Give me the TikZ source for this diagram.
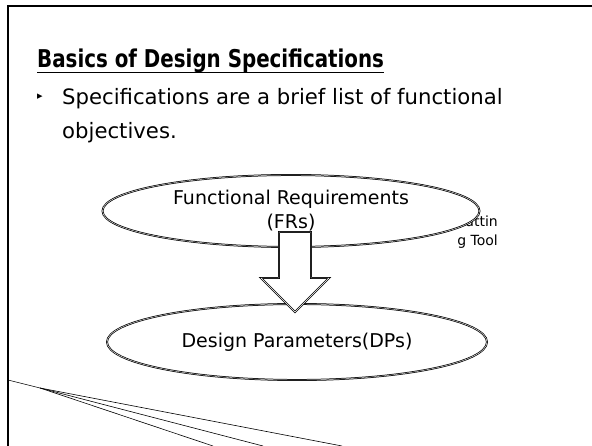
\documentclass[tikz,border=0pt]{standalone}
\usepackage{fontspec}
\setmainfont{DejaVu Sans}
\newfontfamily\headfont{DejaVu Sans}[FakeStretch=0.81]
\usetikzlibrary{shapes.geometric,calc}
\tikzset{
  frameline/.style={line width=2pt},
  bubble/.style={ellipse, draw=black, double=white, double distance=0.4pt,
    line width=0.75pt, fill=white, inner sep=0pt, align=center,
    font=\fontsize{19}{24}\selectfont},
  blockarrow/.style={draw=black, double=white, double distance=0.4pt,
    line width=0.75pt, fill=white, line join=miter},
  title/.style={font=\headfont\fontsize{24.5}{28}\selectfont\bfseries, anchor=base west, inner sep=0pt},
  body/.style={font=\fontsize{21.2}{25}\selectfont, anchor=base west, inner sep=0pt},
  smalltext/.style={font=\fontsize{14}{19}\selectfont, align=right, anchor=north east, inner sep=0pt},
  fanline/.style={line width=0.6pt}
}
\begin{document}
\begin{tikzpicture}[x=1pt, y=-1pt]
  \useasboundingbox (0,0) rectangle (592,446);
  \fill[white] (0,0) rectangle (592,446);

  % slide frame: top and left edges
  \coordinate (fTL) at (8,6);
  \coordinate (fTR) at (592,6);
  \coordinate (fBL) at (8,446);
  \draw[frameline] (fTR) -- (fTL) -- (fBL);

  % heading
  \node[title] (ttl) at (37,68) {Basics of Design Specifications};
  \draw[line width=1.4pt] ($(ttl.base west)+(0,4.5)$) -- ($(ttl.base east)+(0,4.5)$);

  % bullet point
  \node[font=\fontsize{11}{11}\selectfont, inner sep=0pt] (bul) at (40,97) {▸};
  \node[body] (l1) at (62,105) {Specifications are a brief list of functional};
  \node[body] (l2) at (62,139) {objectives.};

  % label partly hidden behind the upper ellipse
  \node[smalltext] (tool) at (498,216) {Cuttin\\g Tool};

  % upper ellipse
  \node[bubble, minimum width=377pt, minimum height=72pt] (fr) at (291,211)
    {Functional Requirements\\(FRs)};

  % lower ellipse
  \node[bubble, minimum width=380pt, minimum height=76pt] (dp) at (297,342)
    {Design Parameters(DPs)};

  % block arrow from FRs to DPs
  \coordinate (atop) at (295,232);
  \coordinate (atip) at (295,312);
  \draw[blockarrow]
    ($(atop)+(-16,0)$) -- ($(atop)+(16,0)$) -- ($(atop)+(16,46)$) -- ($(atop)+(34,46)$)
    -- (atip) -- ($(atop)+(-34,46)$) -- ($(atop)+(-16,46)$) -- cycle;

  % fan of lines at the lower left
  \coordinate (f0) at (8,380);
  \coordinate (f1) at (40,388);
  \coordinate (e1) at (342,446);
  \coordinate (e2) at (263,446);
  \coordinate (e3) at (213,446);
  \draw[fanline] (f0) -- (f1) -- (e1);
  \draw[fanline] (f1) -- (e2);
  \draw[fanline] (f1) -- (e3);
\end{tikzpicture}
\end{document}
